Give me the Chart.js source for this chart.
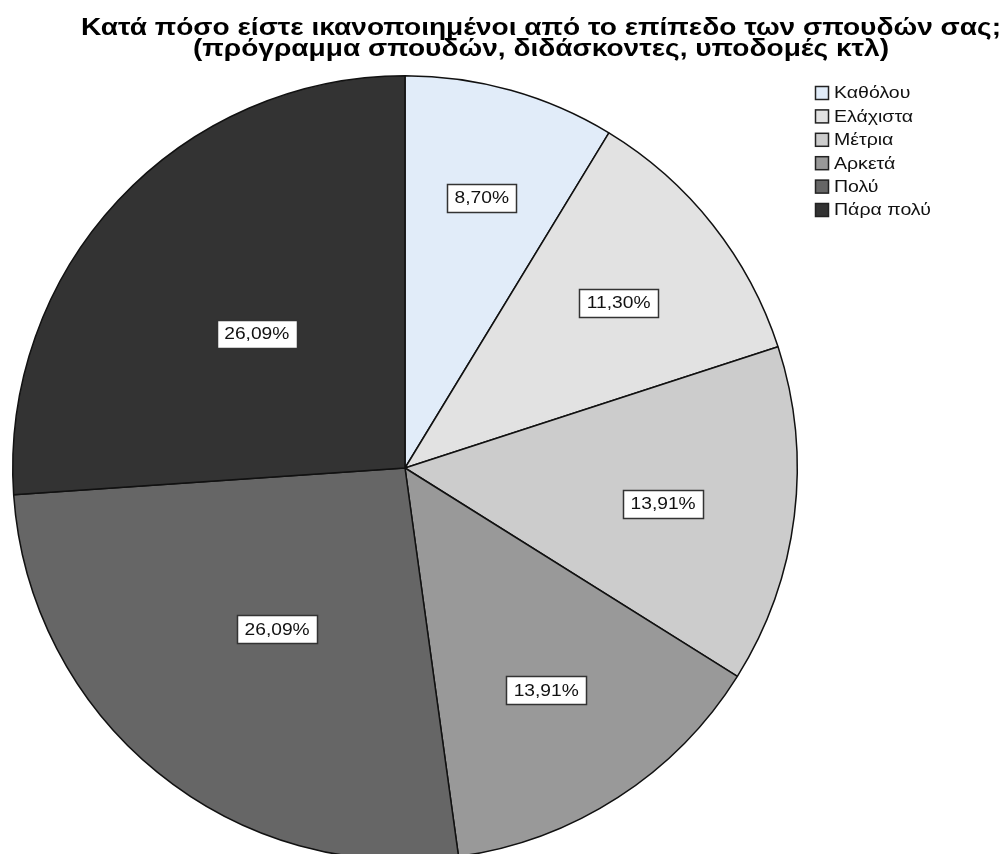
<!DOCTYPE html>
<html>
<head>
<meta charset="utf-8">
<script src="https://cdn.jsdelivr.net/npm/chart.js@4.4.1/dist/chart.umd.min.js"></script>
<style>
  html, body { margin: 0; padding: 0; background: #fff; overflow: hidden; }
</style>
</head>
<body>
<canvas id="chart" width="1001" height="870"></canvas>
<script>
// data
const titleLines = [
  'Κατά πόσο είστε ικανοποιημένοι από το επίπεδο των σπουδών σας;',
  '(πρόγραμμα σπουδών, διδάσκοντες, υποδομές κτλ)'
];
const categories = ['Καθόλου', 'Ελάχιστα', 'Μέτρια', 'Αρκετά', 'Πολύ', 'Πάρα πολύ'];
const percents = [8.70, 11.30, 13.91, 13.91, 26.09, 26.09];
const sliceColors = ['#e1ecf9', '#e2e2e2', '#cccccc', '#999999', '#666666', '#333333'];

const FONT = '"Liberation Sans", Arial, sans-serif';

// SPSS text is rendered wider than Arial, so stretch it a bit
function wideText(c, txt, x, y, sx) {
  c.save();
  c.translate(x, y);
  c.scale(sx, 1);
  c.fillText(txt, 0, 0);
  c.restore();
}

const spssDecor = {
  id: 'spssDecor',
  afterDraw(chart) {
    const c = chart.ctx;
    c.save();
    c.fillStyle = '#000';
    c.textAlign = 'center';
    c.textBaseline = 'alphabetic';
    c.font = 'bold 24px ' + FONT;
    const sx = 920 / c.measureText(titleLines[0]).width;
    wideText(c, titleLines[0], 541, 35, sx);
    wideText(c, titleLines[1], 541, 56, sx);

    // legend
    c.textAlign = 'left';
    c.textBaseline = 'middle';
    c.font = '16px ' + FONT;
    chart.data.labels.forEach((lab, i) => {
      const y = 93 + i * 23.4;
      c.fillStyle = chart.data.datasets[0].backgroundColor[i];
      c.fillRect(815.5, y - 6.5, 13, 13);
      c.strokeStyle = '#222';
      c.lineWidth = 1.5;
      c.strokeRect(815.5, y - 6.5, 13, 13);
      c.fillStyle = '#111';
      wideText(c, lab, 834, y + 1, 1.22);
    });
    c.restore();
  },
  afterDatasetsDraw(chart) {
    const c = chart.ctx;
    const meta = chart.getDatasetMeta(0);
    const total = percents.reduce((a, b) => a + b, 0);
    c.save();
    c.font = '16px ' + FONT;
    c.textAlign = 'center';
    c.textBaseline = 'middle';
    meta.data.forEach((arc, i) => {
      const p = arc.getProps(['x', 'y', 'startAngle', 'endAngle', 'outerRadius'], true);
      const mid = (p.startAngle + p.endAngle) / 2;
      const frac = 0.83 - 1.2 * (percents[i] / total);
      const lx = p.x + Math.cos(mid) * p.outerRadius * frac;
      const ly = p.y + Math.sin(mid) * p.outerRadius * frac + 4;
      const txt = percents[i].toFixed(2).replace('.', ',') + '%';
      const w = Math.round(c.measureText(txt).width * 1.2 + 15);
      const h = 28;
      const bx = Math.round(lx - w / 2) + 0.5;
      const by = Math.round(ly - h / 2) + 0.5;
      c.fillStyle = '#fff';
      c.fillRect(bx, by, w, h);
      c.strokeStyle = '#333';
      c.lineWidth = 1.5;
      c.strokeRect(bx, by, w, h);
      c.fillStyle = '#111';
      wideText(c, txt, lx, ly + 1, 1.2);
    });
    c.restore();
  }
};

new Chart(document.getElementById('chart'), {
  type: 'pie',
  data: {
    labels: categories,
    datasets: [{
      data: percents,
      backgroundColor: sliceColors,
      borderColor: '#111',
      borderWidth: 1.5,
    }],
  },
  options: {
    responsive: false,
    animation: false,
    layout: {
      padding: { left: 12, top: 75, right: 203, bottom: 9 },
    },
    plugins: {
      legend: { display: false },
      tooltip: { enabled: false },
    },
  },
  plugins: [spssDecor],
});
</script>
</body>
</html>
